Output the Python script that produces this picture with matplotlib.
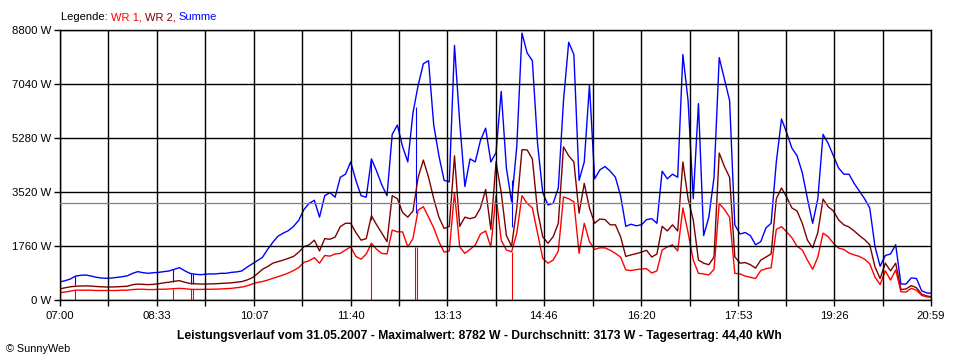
import matplotlib
matplotlib.use("Agg")
import matplotlib.pyplot as plt

# ---------------- data ----------------
start_min = 420          # 07:00
step_min = 5
end_min = 1259           # 20:59

summe = [590, 630, 685, 780, 805, 815, 780, 740, 717, 707, 717, 740, 760, 790, 870, 925, 890, 870, 890, 900,
         925, 945, 1000, 1055, 955, 870, 840, 825, 840, 850, 850, 870, 870, 900, 915, 945, 1065, 1175,
         1280, 1390, 1650, 1880, 2080, 2180, 2260, 2400, 2600, 2950, 3150, 3250, 2700, 3400, 3500, 3350,
         4000, 4100, 4500, 3900, 3400, 3350, 4600, 4200, 3750, 3400, 5400, 5700, 5000, 4500, 6100, 7000,
         7700, 7800, 5700, 4700, 3900, 3850, 8300, 5800, 3700, 4600, 4500, 5200, 5600, 4500, 4800, 6800,
         4300, 3200, 5000, 8700, 8050, 7800, 5100, 3500, 3100, 3150, 3650, 6500, 8400, 8000, 3900, 4500,
         7000, 3950, 4240, 4350, 4200, 4000, 3400, 2400, 2470, 2420, 2450, 2620, 2650, 2500, 4200, 3950,
         4100, 4000, 8000, 6500, 3300, 6400, 2100, 2700, 4000, 7900, 7200, 6500, 2450, 2150, 2200, 2100,
         1800, 1900, 2350, 2500, 4500, 5900, 5450, 4950, 4700, 4150, 3300, 2500, 3300, 5400, 5100, 4700,
         4300, 4100, 4100, 3800, 3550, 3300, 3000, 1750, 1100, 1450, 1500, 1800, 520, 520, 720, 700,
         300, 230, 220]

wr2 = [360, 400, 430, 450, 455, 460, 455, 440, 430, 425, 425, 430, 440, 450, 500, 520, 510, 500, 510, 530,
       560, 580, 610, 630, 580, 540, 530, 520, 520, 525, 530, 540, 550, 560, 580, 600, 650, 720,
       850, 1000, 1090, 1200, 1250, 1300, 1360, 1420, 1560, 1740, 1800, 1950, 1600, 2000, 1980, 2050,
       2390, 2500, 2500, 2200, 1950, 2000, 2750, 2450, 2180, 1900, 3400, 3300, 2850, 2700, 2900, 4000,
       4560, 4000, 3300, 2700, 2330, 2400, 4700, 2400, 2700, 2650, 2700, 3000, 3600, 2300, 4500, 3500,
       2100, 1750, 3000, 4900, 4890, 4600, 2900, 2060, 1850, 2060, 2500, 4990, 4700, 4500, 2830, 3800,
       3000, 2500, 2640, 2620, 2450, 2450, 2060, 1420, 1470, 1510, 1560, 1620, 1400, 1500, 2400, 2250,
       2450, 2250, 4500, 3300, 2600, 1300, 1200, 1150, 1400, 4790, 4350, 4000, 1410, 1200, 1220, 1150,
       1040, 1300, 1400, 1500, 3300, 3650, 3350, 3000, 2900, 2500, 1950, 1700, 2200, 3290, 3040, 2900,
       2610, 2450, 2380, 2250, 2100, 1970, 1800, 1085, 700, 1200, 950, 1200, 340, 360, 470, 400,
       190, 130, 110]

wr1 = [240, 260, 290, 320, 320, 320, 320, 310, 310, 310, 310, 310, 320, 320, 340, 350, 350, 340, 340, 350,
       350, 360, 370, 380, 370, 350, 345, 345, 350, 350, 355, 360, 370, 380, 400, 420, 460, 520,
       570, 600, 650, 707, 760, 815, 880, 960, 1060, 1230, 1280, 1380, 1200, 1450, 1430, 1500,
       1520, 1630, 1730, 1420, 1330, 1500, 1850, 1650, 1520, 1500, 2280, 2220, 2220, 1730, 2000, 2930,
       3040, 2700, 2350, 1900, 1560, 1600, 3500, 1730, 1520, 1650, 1790, 2150, 2250, 1730, 3400, 1950,
       1630, 1570, 2180, 3400, 3150, 3000, 2180, 1360, 1200, 1300, 1600, 3360, 3300, 3200, 1520, 2500,
       1900, 1650, 1700, 1700, 1620, 1520, 1400, 980, 960, 990, 1010, 1020, 880, 950, 1630, 1730,
       1800, 1600, 3000, 2200, 1300, 870, 850, 815, 1000, 3150, 2950, 2700, 870, 850, 780, 740,
       700, 960, 1020, 1050, 2300, 2390, 2220, 2030, 1750, 1630, 1300, 1000, 1400, 2180, 2060, 1850,
       1690, 1650, 1530, 1470, 1420, 1330, 1180, 750, 500, 950, 650, 980, 270, 260, 380, 320,
       150, 100, 90]

# brief drop-outs of WR 1 to 0 W (time, level just before the drop)
wr1_drop_times = ["07:14", "08:49", "09:06", "09:08", "12:00", "12:42", "12:44", "14:15"]
wr1_drop_levels = [320, 370, 350, 350, 1850, 1730, 1730, 1570]
# matching dips of the sum curve (time, low, high)
summe_dip_times = ["07:14", "08:49", "09:06", "09:08", "12:00", "12:43", "14:15"]
summe_dip_low = [490, 590, 520, 520, 2600, 2830, 2390]
summe_dip_high = [780, 1000, 870, 850, 4600, 6300, 3900]

x_labels = ["07:00", "08:33", "10:07", "11:40", "13:13", "14:46", "16:20", "17:53", "19:26", "20:59"]
y_ticks = [0, 1760, 3520, 5280, 7040, 8800]
mean_value = 3173

title = ("Leistungsverlauf vom 31.05.2007 - Maximalwert: 8782 W - "
         "Durchschnitt: 3173 W - Tagesertrag: 44,40 kWh")

# ---------------- drawing ----------------
def to_min(s):
    h, m = s.split(":")
    return int(h) * 60 + int(m)

times = [min(start_min + step_min * i, end_min) for i in range(len(summe))]

C_WR1 = "#ff0000"
C_WR2 = "#800000"
C_SUM = "#0000ff"

plt.rcParams["font.family"] = ["Liberation Sans", "DejaVu Sans"]
fig = plt.figure(figsize=(9.6, 3.6), dpi=100, facecolor="white")
ax = fig.add_axes([60 / 960, 1 - 300 / 360, 871 / 960, 270 / 360])

lw = 1.0
ax.plot(times, summe, color=C_SUM, lw=lw, zorder=2)
ax.vlines([to_min(t) for t in summe_dip_times], summe_dip_low, summe_dip_high,
          color=C_SUM, lw=0.8, zorder=2)
ax.plot(times, wr2, color=C_WR2, lw=lw, zorder=2.1)
ax.plot(times, wr1, color=C_WR1, lw=lw, zorder=2.2)
ax.vlines([to_min(t) for t in wr1_drop_times], 0, wr1_drop_levels,
          color=C_WR1, lw=0.8, zorder=2.2)

ax.axhline(mean_value, color="#808080", lw=0.9, zorder=2.6)

ax.set_xlim(start_min, end_min)
ax.set_ylim(0, 8800)

major = [to_min(s) for s in x_labels]
minor = [(a + b) / 2 for a, b in zip(major[:-1], major[1:])]
ax.set_xticks(major)
ax.set_xticklabels(x_labels)
ax.set_xticks(minor, minor=True)
ax.set_yticks(y_ticks)
ax.set_yticklabels([f"{v} W" for v in y_ticks])

ax.set_axisbelow(False)
ax.grid(True, which="both", axis="x", color="black", lw=1.0)
ax.grid(True, which="major", axis="y", color="black", lw=1.0)
ax.tick_params(axis="both", which="both", direction="out", length=4, width=1.0,
               color="black", labelsize=8.2, pad=2.5)
ax.tick_params(axis="x", which="major", pad=4)
for sp in ax.spines.values():
    sp.set_color("black")
    sp.set_linewidth(1.0)

# legend line at the top
fig.canvas.draw()
renderer = fig.canvas.get_renderer()
x_pos = 61 / 960
y_pos = 1 - 20.5 / 360
for txt, col in [("Legende: ", "black"), ("WR 1, ", C_WR1), ("WR 2, ", C_WR2), ("Summe", C_SUM)]:
    t = fig.text(x_pos, y_pos, txt, color=col, fontsize=8, ha="left", va="baseline")
    bb = t.get_window_extent(renderer=renderer)
    x_pos += bb.width / fig.bbox.width

fig.text(479 / 960, 1 - 336 / 360, title, fontsize=8.7, fontweight="bold",
         ha="center", va="center")
fig.text(6 / 960, 1 - 348.5 / 360, "\u00a9 SunnyWeb", fontsize=7.8, ha="left", va="center")

fig.savefig("out.png", dpi=100, facecolor="white")
